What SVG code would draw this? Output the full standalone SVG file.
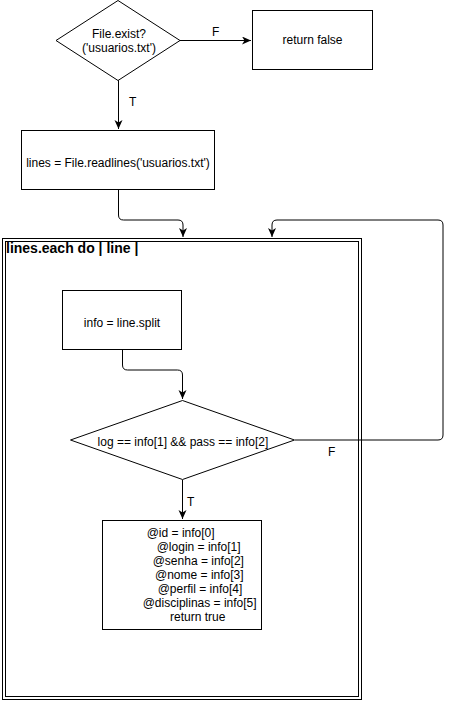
<svg xmlns="http://www.w3.org/2000/svg" width="451" height="701" viewBox="0 0 451 701">
<style>
.s{fill:#fff;stroke:#000;stroke-width:1}
.c{fill:none;stroke:#000;stroke-width:1}
text{font-family:"Liberation Sans",Arial,Helvetica,sans-serif;font-size:12px;fill:#000}
.m{text-anchor:middle}
.b{font-weight:bold;font-size:14px}
</style>
<defs>
<marker id="a" markerWidth="10" markerHeight="10" refX="9" refY="4" orient="auto" markerUnits="userSpaceOnUse">
<path d="M0,0 L9,4 L0,8 L2.5,4 Z" fill="#000"/>
</marker>
</defs>
<rect width="451" height="701" fill="#fff"/>
<g id="loop">
<rect class="s" x="2.5" y="238.5" width="359" height="461"/>
<rect class="c" x="5.5" y="241.5" width="353" height="455"/>
<text class="b" x="6" y="253">lines.each do | line |</text>
</g>
<g id="connectors">
<path class="c" d="M180,40.5 H251" marker-end="url(#a)"/>
<path class="c" d="M118.5,80 V129" marker-end="url(#a)"/>
<path class="c" d="M118.5,190 V215 Q118.5,220 123.5,220 H178 Q183,220 183,225 V237" marker-end="url(#a)"/>
<path class="c" d="M295,440 H438 Q443,440 443,435 V225 Q443,220 438,220 H277 Q272,220 272,225 V237" marker-end="url(#a)"/>
<path class="c" d="M122.5,350 V365 Q122.5,370 127.5,370 H177.5 Q182.5,370 182.5,375 V399" marker-end="url(#a)"/>
<path class="c" d="M182.5,480 V519" marker-end="url(#a)"/>
<text x="212" y="36">F</text>
<text x="129" y="106">T</text>
<text x="328" y="456">F</text>
<text x="187" y="506">T</text>
</g>
<g id="exist">
<polygon class="s" points="118,0.5 180,40.5 118,80.5 56,40.5"/>
<text class="m" x="119" y="38">File.exist?</text>
<text class="m" x="119" y="52">('usuarios.txt')</text>
</g>
<g id="retfalse">
<rect class="s" x="252.5" y="10.5" width="120" height="59"/>
<text class="m" x="312.5" y="44">return false</text>
</g>
<g id="readlines">
<rect class="s" x="21.5" y="130.5" width="193" height="59"/>
<text class="m" x="118" y="167">lines = File.readlines('usuarios.txt')</text>
</g>
<g id="split">
<rect class="s" x="62.5" y="290.5" width="119" height="59"/>
<text class="m" x="122" y="327">info = line.split</text>
</g>
<g id="check">
<polygon class="s" points="182.5,400.5 294.5,440 182.5,479.5 70.5,440"/>
<text class="m" x="183" y="446">log == info[1] &amp;&amp; pass == info[2]</text>
</g>
<g id="assign">
<rect class="s" x="102.5" y="520.5" width="159" height="109"/>
<text x="146.7" y="537">@id = info[0]</text>
<text x="156.7" y="551">@login = info[1]</text>
<text x="152.7" y="565">@senha = info[2]</text>
<text x="155" y="579">@nome = info[3]</text>
<text x="157.7" y="593">@perfil = info[4]</text>
<text x="142.7" y="607">@disciplinas = info[5]</text>
<text x="170" y="621">return true</text>
</g>
</svg>
